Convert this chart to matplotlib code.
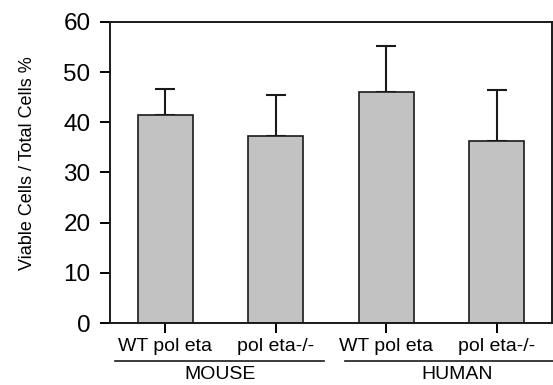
import matplotlib
matplotlib.use('Agg')
import matplotlib.pyplot as plt
import numpy as np

# data
labels = ['WT pol eta', 'pol eta-/-', 'WT pol eta', 'pol eta-/-']
means = [41.5, 37.2, 46.0, 36.3]
errs = [5.2, 8.3, 9.3, 10.2]
groups = ['MOUSE', 'HUMAN']

plt.rcParams['font.family'] = ['Liberation Sans', 'DejaVu Sans']

fig = plt.figure(figsize=(5.53, 3.85), dpi=100)
ax = fig.add_axes([0.199, 0.161, 0.799, 0.782])

x = np.arange(len(means))
ax.bar(x, means, width=0.5, color='#c2c2c2', edgecolor='#1a1a1a', linewidth=1.2, zorder=2)
ax.errorbar(x, means, yerr=[np.zeros(len(errs)), errs], fmt='none', ecolor='#1a1a1a',
            elinewidth=1.5, capsize=7, capthick=1.5, zorder=1)

ax.set_xlim(-0.5, 3.5)
ax.set_ylim(0, 60)
ax.set_yticks(np.arange(0, 61, 10))
ax.set_xticks(x)
ax.set_xticklabels(labels, fontsize=14)
ax.tick_params(axis='y', labelsize=17.5, length=7, width=1.4, pad=7, direction='out')
ax.tick_params(axis='x', length=7, width=1.4, pad=4, direction='out')
for s in ax.spines.values():
    s.set_linewidth(1.4)
    s.set_color('#1a1a1a')

ax.set_ylabel('Viable Cells / Total Cells %', fontsize=13)
ax.yaxis.set_label_coords(-0.168, 0.53)

# group lines and labels under the tick labels
trans = ax.get_xaxis_transform()
spans = [(-0.456, 1.44), (1.63, 3.66)]
for g, (a, b) in zip(groups, spans):
    ax.plot([a, b], [-0.125, -0.125], transform=trans, color='#1a1a1a', lw=1.2, clip_on=False)
    ax.text((a + b) / 2, -0.17, g, transform=trans, ha='center', va='center', fontsize=14)

fig.savefig('out.png', dpi=100)
